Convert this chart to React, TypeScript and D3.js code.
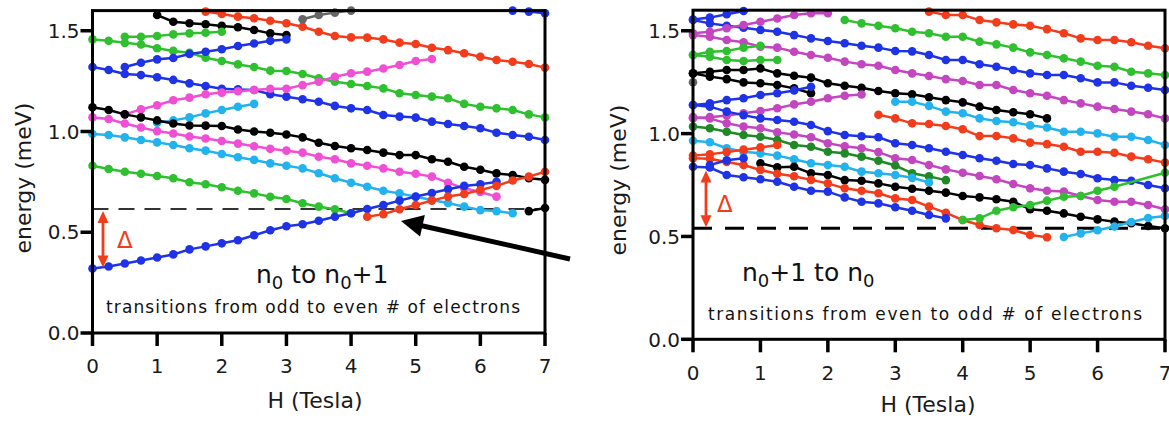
import React, { useEffect } from 'react';
import * as d3 from 'd3';

const BLUE = '#1e32e6';
const RED = '#f23c1c';
const GREEN = '#2ec02e';
const DKGREEN = '#1f8a25';
const PINK = '#f04ed4';
const MAGENTA = '#c445c0';
const CYAN = '#22b2ee';
const BLACK = '#000000';
const GRAY = '#666666';

// ---------- axis ticks ----------
const xTicks = [0, 1, 2, 3, 4, 5, 6, 7];
const yTicks = [0, 0.5, 1.0, 1.5];
const yTickLabels = ['0.0', '0.5', '1.0', '1.5'];

// ---------- LEFT panel data (H step 0.25 T, energies in meV) ----------
const L_blueLow = [0.32, 0.33, 0.345, 0.36, 0.375, 0.39, 0.415, 0.43, 0.445, 0.46, 0.485, 0.51, 0.53, 0.54, 0.557, 0.577, 0.594, 0.615, 0.635, 0.657, 0.677, 0.695, 0.713, 0.73, 0.738, 0.75];
const L_redRise = [0.577, 0.59, 0.614, 0.635, 0.657, 0.677, 0.69, 0.71, 0.73, 0.757, 0.776, 0.8];
const L_greenLow = [0.83, 0.814, 0.8, 0.79, 0.779, 0.768, 0.748, 0.738, 0.723, 0.706, 0.693, 0.676, 0.665, 0.644, 0.627, 0.614, 0.594];
const L_cyanLow = [0.988, 0.983, 0.971, 0.958, 0.946, 0.933, 0.917, 0.905, 0.888, 0.872, 0.859, 0.842, 0.83, 0.817, 0.793, 0.768, 0.746, 0.726, 0.706, 0.693, 0.676, 0.66, 0.645, 0.627, 0.61, 0.605, 0.594];
const L_pinkLow = [1.07, 1.062, 1.04, 1.02, 1.002, 0.99, 0.975, 0.965, 0.953, 0.94, 0.927, 0.914, 0.905, 0.895, 0.875, 0.862, 0.842, 0.83, 0.817, 0.8, 0.79, 0.776, 0.746, 0.718, 0.7, 0.677];
const L_blackLow = [1.12, 1.107, 1.085, 1.07, 1.055, 1.04, 1.03, 1.029, 1.027, 1.01, 1.0, 0.994, 0.985, 0.971, 0.944, 0.928, 0.917, 0.908, 0.895, 0.883, 0.883, 0.862, 0.85, 0.825, 0.81, 0.792, 0.784, 0.768, 0.76];
const L_blackShort = [0.605, 0.62];
const L_pinkUp = [1.085, 1.11, 1.13, 1.155, 1.168, 1.185, 1.193, 1.2, 1.206, 1.212, 1.212, 1.23, 1.247, 1.272, 1.289, 1.297, 1.313, 1.33, 1.35, 1.36];
const L_cyanUp = [1.044, 1.055, 1.07, 1.09, 1.107, 1.123, 1.137];
const L_blueMid = [1.32, 1.305, 1.285, 1.28, 1.269, 1.256, 1.239, 1.226, 1.212, 1.209, 1.206, 1.185, 1.173, 1.16, 1.148, 1.127, 1.115, 1.107, 1.082, 1.074, 1.069, 1.049, 1.037, 1.027, 1.016, 0.994, 0.983, 0.974, 0.958];
const L_blueUp = [1.32, 1.341, 1.358, 1.365, 1.385, 1.396, 1.408, 1.424, 1.437, 1.45, 1.457];
const L_greenUp = [1.457, 1.45, 1.44, 1.432, 1.413, 1.4, 1.391, 1.366, 1.35, 1.333, 1.32, 1.302, 1.3, 1.285, 1.264, 1.247, 1.236, 1.226, 1.214, 1.19, 1.181, 1.173, 1.165, 1.137, 1.123, 1.115, 1.107, 1.085, 1.07];
const L_greenTop = [1.47, 1.47, 1.474, 1.482, 1.487, 1.49, 1.495];
const L_blackTop = [1.578, 1.545, 1.537, 1.532, 1.524, 1.517, 1.504, 1.487, 1.479];
const L_redTop = [1.595, 1.583, 1.57, 1.562, 1.55, 1.537, 1.52, 1.495, 1.474, 1.467, 1.466, 1.457, 1.441, 1.434, 1.416, 1.404, 1.388, 1.371, 1.355, 1.346, 1.335, 1.317];
const L_grayTop = [1.557, 1.578, 1.59, 1.6];
const L_blueTopRight = [1.6, 1.595, 1.587];

// ---------- RIGHT panel data ----------
const R_redTop = [1.593, 1.577, 1.577, 1.552, 1.541, 1.531, 1.524, 1.508, 1.488, 1.463, 1.455, 1.455, 1.444, 1.427, 1.415];
const R_greenUp = [1.552, 1.536, 1.524, 1.512, 1.495, 1.488, 1.471, 1.471, 1.447, 1.434, 1.418, 1.395, 1.382, 1.366, 1.35, 1.33, 1.325, 1.301, 1.293, 1.285];
const R_blueHi = [1.552, 1.536, 1.524, 1.515, 1.504, 1.495, 1.479, 1.463, 1.45, 1.439, 1.427, 1.418, 1.402, 1.4, 1.382, 1.358, 1.358, 1.337, 1.325, 1.309, 1.293, 1.285, 1.285, 1.269, 1.249, 1.249, 1.233, 1.223, 1.212];
const R_blueTopShort = [1.555, 1.564, 1.58, 1.596];
const R_magRiseTop = [1.488, 1.495, 1.512, 1.528, 1.544, 1.56, 1.577, 1.585, 1.585];
const R_magHi = [1.479, 1.471, 1.455, 1.444, 1.423, 1.418, 1.398, 1.382, 1.369, 1.35, 1.337, 1.33, 1.309, 1.293, 1.28, 1.265, 1.256, 1.236, 1.236, 1.212, 1.196, 1.184, 1.163, 1.147, 1.131, 1.12, 1.107, 1.094, 1.074];
const R_greenShortUp = [1.382, 1.398, 1.402, 1.418, 1.427];
const R_greenShortLow = [1.382, 1.374, 1.358, 1.353, 1.358, 1.358];
const R_blackUp = [1.293, 1.301, 1.309, 1.309, 1.317, 1.293, 1.281, 1.272, 1.245, 1.233, 1.223, 1.207, 1.196, 1.191, 1.177, 1.163, 1.152, 1.131, 1.115, 1.104, 1.094, 1.074];
const R_blackShort = [1.293, 1.277, 1.265, 1.249, 1.245, 1.236, 1.22, 1.196];
const R_blueRiseShort = [1.139, 1.147, 1.163, 1.172, 1.188, 1.196, 1.21, 1.228];
const R_grayDot = [1.25];
const R_magRiseMid = [1.075, 1.08, 1.088, 1.099, 1.11, 1.123, 1.142, 1.155, 1.172, 1.184, 1.19];
const R_cyanUp = [1.155, 1.155, 1.135, 1.107, 1.099, 1.074, 1.061, 1.055, 1.04, 1.03, 1.009, 1.009, 1.001, 0.985, 0.985, 0.969, 0.945];
const R_redMid = [1.092, 1.074, 1.05, 1.047, 1.037, 1.021, 0.988, 0.988, 0.977, 0.956, 0.949, 0.936, 0.912, 0.912, 0.907, 0.888, 0.875, 0.859];
const R_blueMid = [1.139, 1.131, 1.107, 1.09, 1.074, 1.066, 1.058, 1.042, 1.012, 0.993, 0.987, 0.982, 0.953, 0.945, 0.929, 0.912, 0.896, 0.88, 0.868, 0.852, 0.847, 0.831, 0.815, 0.804, 0.783, 0.774, 0.771, 0.75, 0.734];
const R_magLow = [1.08, 1.074, 1.05, 1.034, 1.026, 1.006, 0.996, 0.982, 0.953, 0.938, 0.929, 0.91, 0.88, 0.872, 0.847, 0.826, 0.81, 0.794, 0.778, 0.755, 0.734, 0.722, 0.718, 0.697, 0.677, 0.669, 0.669, 0.653, 0.632];
const R_dkGreen = [1.034, 1.026, 1.009, 0.993, 0.985, 0.969, 0.945, 0.936, 0.912, 0.904, 0.888, 0.868, 0.845, 0.807, 0.792, 0.774];
const R_cyanLow = [0.965, 0.958, 0.929, 0.912, 0.904, 0.893, 0.875, 0.856, 0.847, 0.839, 0.815, 0.807, 0.799, 0.785, 0.762];
const R_redShortRise = [0.893, 0.9, 0.91, 0.922, 0.933, 0.945];
const R_redLow = [0.88, 0.878, 0.862, 0.847, 0.823, 0.805, 0.793, 0.775, 0.758, 0.734, 0.722, 0.71, 0.685, 0.677, 0.645, 0.615, 0.58, 0.556, 0.54, 0.531, 0.507, 0.496];
const R_blueLow = [0.839, 0.835, 0.799, 0.788, 0.778, 0.766, 0.742, 0.722, 0.718, 0.69, 0.669, 0.661, 0.642, 0.625, 0.604, 0.588];
const R_blueShort = [0.847, 0.87, 0.88];
const R_blackLow = [0.856, 0.836, 0.839, 0.807, 0.799, 0.774, 0.771, 0.758, 0.742, 0.732, 0.722, 0.713, 0.697, 0.69, 0.681, 0.669, 0.632, 0.625, 0.612, 0.596, 0.583, 0.572, 0.564, 0.551, 0.54];
const R_greenRiseH = [4, 4.25, 4.5, 4.75, 5, 5.25, 5.5, 5.75, 6, 6.25, 7];
const R_greenRise = [0.58, 0.588, 0.625, 0.642, 0.653, 0.674, 0.693, 0.697, 0.722, 0.742, 0.81];
const R_cyanRise = [0.497, 0.515, 0.53, 0.548, 0.57, 0.59, 0.6];

type Series = { color: string; start?: number; hs?: number[]; values: number[] };

const leftSeries: Series[] = [
  { color: RED, start: 1.75, values: L_redTop },
  { color: GRAY, start: 3.25, values: L_grayTop },
  { color: BLUE, start: 6.5, values: L_blueTopRight },
  { color: BLACK, start: 1.0, values: L_blackTop },
  { color: GREEN, start: 0.5, values: L_greenTop },
  { color: GREEN, start: 0, values: L_greenUp },
  { color: BLUE, start: 0.5, values: L_blueUp },
  { color: BLUE, start: 0, values: L_blueMid },
  { color: PINK, start: 0.5, values: L_pinkUp },
  { color: CYAN, start: 1.0, values: L_cyanUp },
  { color: BLACK, start: 0, values: L_blackLow },
  { color: PINK, start: 0, values: L_pinkLow },
  { color: CYAN, start: 0, values: L_cyanLow },
  { color: GREEN, start: 0, values: L_greenLow },
  { color: BLACK, start: 6.75, values: L_blackShort },
  { color: BLUE, start: 0, values: L_blueLow },
  { color: RED, start: 4.25, values: L_redRise },
];

const rightSeries: Series[] = [
  { color: RED, start: 3.5, values: R_redTop },
  { color: GREEN, start: 2.25, values: R_greenUp },
  { color: BLUE, start: 0, values: R_blueTopShort },
  { color: BLUE, start: 0, values: R_blueHi },
  { color: MAGENTA, start: 0, values: R_magRiseTop },
  { color: MAGENTA, start: 0, values: R_magHi },
  { color: GREEN, start: 0, values: R_greenShortUp },
  { color: GREEN, start: 0, values: R_greenShortLow },
  { color: BLACK, start: 0, values: R_blackShort },
  { color: BLACK, start: 0, values: R_blackUp },
  { color: GRAY, start: 0, values: R_grayDot },
  { color: BLUE, start: 0, values: R_blueRiseShort },
  { color: MAGENTA, start: 0, values: R_magRiseMid },
  { color: CYAN, start: 3.0, values: R_cyanUp },
  { color: RED, start: 2.75, values: R_redMid },
  { color: BLUE, start: 0, values: R_blueMid },
  { color: MAGENTA, start: 0, values: R_magLow },
  { color: DKGREEN, start: 0, values: R_dkGreen },
  { color: CYAN, start: 0, values: R_cyanLow },
  { color: RED, start: 0, values: R_redShortRise },
  { color: BLACK, start: 1.0, values: R_blackLow },
  { color: RED, start: 0, values: R_redLow },
  { color: BLUE, start: 0, values: R_blueLow },
  { color: BLUE, start: 0.25, values: R_blueShort },
  { color: GREEN, hs: R_greenRiseH, values: R_greenRise },
  { color: CYAN, start: 5.5, values: R_cyanRise },
];

const FONT = '"DejaVu Sans", Verdana, sans-serif';

type PanelProps = {
  series: Series[];
  xr: [number, number];
  yr: [number, number];
  dashE: number;
  dashStyle: { stroke: string; width: number; dash: string };
  deltaX: number;
  deltaLow: number;
  deltaText: [number, number];
  yTitle: [number, number];
  xTitle: [number, number];
  xLabelDy: number;
};

function arrowHead(tx: number, ty: number, fx: number, fy: number, len: number, half: number) {
  const dx = tx - fx, dy = ty - fy;
  const L = Math.hypot(dx, dy);
  const ux = dx / L, uy = dy / L;
  const bx = tx - ux * len, by = ty - uy * len;
  const nx = -uy, ny = ux;
  return `${tx},${ty} ${bx + nx * half},${by + ny * half} ${bx - nx * half},${by - ny * half}`;
}

function Panel(p: PanelProps) {
  const x = d3.scaleLinear().domain([0, 7]).range(p.xr);
  const y = d3.scaleLinear().domain([0, 1.6]).range(p.yr);
  const line = d3.line<[number, number]>().x(d => x(d[0])).y(d => y(d[1]));
  const x0 = x(0), x7 = x(7), yb = y(0), yt = y(1.6);
  const yd = y(p.dashE);
  const yOther = y(p.deltaLow);
  const yA1 = Math.min(yd, yOther) + 2;
  const yA2 = Math.max(yd, yOther) - 1;
  return (
    <g>
      <line x1={x0} x2={x7} y1={yd} y2={yd} stroke={p.dashStyle.stroke} strokeWidth={p.dashStyle.width} strokeDasharray={p.dashStyle.dash} />
      {p.series.map((s, i) => {
        const pts: [number, number][] = s.values.map((v, k) => [s.hs ? s.hs[k] : (s.start as number) + 0.25 * k, v]);
        return (
          <g key={i}>
            {pts.length > 1 && <path d={line(pts) || ''} fill="none" stroke={s.color} strokeWidth={2.5} />}
            {pts.map((d, k) => (
              <circle key={k} cx={x(d[0])} cy={y(d[1])} r={4.3} fill={s.color} />
            ))}
          </g>
        );
      })}
      {/* frame */}
      <rect x={x0} y={yt} width={x7 - x0} height={yb - yt} fill="none" stroke="#000" strokeWidth={3} />
      {yTicks.map((t, i) => (
        <g key={'y' + i}>
          <line x1={x0 - 12} x2={x0} y1={y(t)} y2={y(t)} stroke="#000" strokeWidth={3.5} />
          <text x={x0 - 13} y={y(t)} dy="0.36em" textAnchor="end" fontFamily={FONT} fontSize={20} fill="#1a1a1a">{yTickLabels[i]}</text>
        </g>
      ))}
      {xTicks.map((t, i) => (
        <g key={'x' + i}>
          <line x1={x(t)} x2={x(t)} y1={yb} y2={yb + 13} stroke="#000" strokeWidth={3.5} />
          <text x={x(t)} y={yb + p.xLabelDy} textAnchor="middle" fontFamily={FONT} fontSize={20} fill="#1a1a1a">{t}</text>
        </g>
      ))}
      {/* delta arrow */}
      <line x1={p.deltaX} x2={p.deltaX} y1={yA1 + 8} y2={yA2 - 8} stroke={RED} strokeWidth={2.8} />
      <polygon points={arrowHead(p.deltaX, yA1, p.deltaX, yA2, 12, 5.5)} fill={RED} />
      <polygon points={arrowHead(p.deltaX, yA2, p.deltaX, yA1, 12, 5.5)} fill={RED} />
      <text x={p.deltaText[0]} y={p.deltaText[1]} fontFamily={FONT} fontSize={23} fill={RED}>Δ</text>
      <text transform={`translate(${p.yTitle[0]},${p.yTitle[1]}) rotate(-90)`} textAnchor="middle" fontFamily={FONT} fontSize={22} fill="#1a1a1a">energy (meV)</text>
      <text x={p.xTitle[0]} y={p.xTitle[1]} textAnchor="middle" fontFamily={FONT} fontSize={22} fill="#1a1a1a">H (Tesla)</text>
    </g>
  );
}

export default function App() {
  useEffect(() => {
    document.body.style.margin = '0';
  }, []);
  const bigTip: [number, number] = [401, 221];
  const bigTail: [number, number] = [570, 259];
  const ux = bigTip[0] - bigTail[0], uy = bigTip[1] - bigTail[1];
  const ul = Math.hypot(ux, uy);
  const shaftEnd: [number, number] = [bigTip[0] - (ux / ul) * 18, bigTip[1] - (uy / ul) * 18];
  return (
    <svg width={1169} height={423} style={{ position: 'absolute', left: 0, top: 0, display: 'block', background: '#fff' }}>
      <Panel
        series={leftSeries}
        xr={[92.5, 545]}
        yr={[333, 10.6]}
        dashE={0.615}
        dashStyle={{ stroke: '#333', width: 2, dash: '16 10' }}
        deltaX={103}
        deltaLow={0.32}
        deltaText={[117, 248]}
        yTitle={[31, 178]}
        xTitle={[315, 408]}
        xLabelDy={40}
      />
      <Panel
        series={rightSeries}
        xr={[693, 1165]}
        yr={[339.3, 10.2]}
        dashE={0.54}
        dashStyle={{ stroke: '#000', width: 3, dash: '19 13' }}
        deltaX={706}
        deltaLow={0.83}
        deltaText={[717, 212]}
        yTitle={[626, 180]}
        xTitle={[928, 412]}
        xLabelDy={41}
      />
      {/* big black arrow */}
      <line x1={bigTail[0]} y1={bigTail[1]} x2={shaftEnd[0]} y2={shaftEnd[1]} stroke="#000" strokeWidth={5} />
      <polygon points={arrowHead(bigTip[0], bigTip[1], bigTail[0], bigTail[1], 22, 11)} fill="#000" />
      {/* annotations */}
      <text x={256} y={283} fontFamily={FONT} fontSize={25} fill="#111">
        n<tspan fontSize={18} dy={6}>0</tspan><tspan dy={-6}> to n</tspan><tspan fontSize={18} dy={6}>0</tspan><tspan dy={-6}>+1</tspan>
      </text>
      <text x={106} y={313} fontFamily={FONT} fontSize={17} fill="#111" textLength={414} lengthAdjust="spacing">transitions from odd to even # of electrons</text>
      <text x={742} y={281} fontFamily={FONT} fontSize={25} fill="#111">
        n<tspan fontSize={18} dy={6}>0</tspan><tspan dy={-6}>+1 to n</tspan><tspan fontSize={18} dy={6}>0</tspan>
      </text>
      <text x={708} y={320} fontFamily={FONT} fontSize={17} fill="#111" textLength={434} lengthAdjust="spacing">transitions from even to odd # of electrons</text>
    </svg>
  );
}
